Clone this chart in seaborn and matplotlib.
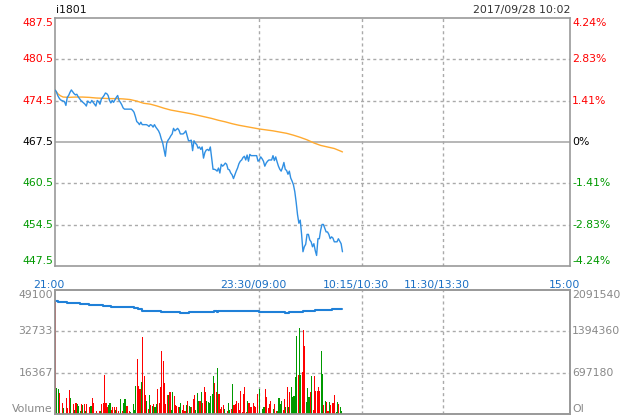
import numpy as np
import pandas as pd
import matplotlib
matplotlib.use("Agg")
import matplotlib.pyplot as plt
import matplotlib.transforms as mtransforms
import seaborn as sns

# ---------------- data ----------------
symbol = "i1801"
stamp = "2017/09/28 10:02"
time_labels = ["21:00", "23:30/09:00", "10:15/10:30", "11:30/13:30", "15:00"]
time_ticks = [0, 150, 225, 285]          # session minutes of the first four labels
price_labels = ["447.5", "454.5", "460.5", "467.5", "474.5", "480.5", "487.5"]
pct_labels = ["-4.24%", "-2.83%", "-1.41%", "0%", "1.41%", "2.83%", "4.24%"]
vol_labels = ["Volume", "16367", "32733", "49100"]
oi_labels = ["OI", "697180", "1394360", "2091540"]

price = [
    475.9, 475.6, 475.0, 474.6, 474.3, 474.2, 474.1, 474.0, 473.4, 474.7,
    475.0, 475.5, 475.9, 475.6, 475.3, 475.1, 475.2, 474.8, 474.5, 474.2,
    474.0, 473.8, 473.6, 473.3, 474.1, 473.9, 473.8, 474.2, 473.9, 473.6,
    473.3, 474.2, 474.0, 473.6, 474.4, 474.7, 475.0, 475.4, 475.3, 475.0,
    474.2, 473.8, 474.2, 473.9, 474.3, 474.7, 475.0, 474.2, 473.9, 473.5,
    473.0, 472.8, 472.8, 472.8, 472.8, 472.8, 472.8, 472.6, 472.3, 471.6,
    470.8, 470.6, 470.3, 470.7, 470.3, 470.3, 470.3, 470.3, 470.2, 470.0,
    470.3, 470.2, 469.9, 470.3, 469.9, 469.6, 469.3, 468.8, 468.0, 467.4,
    466.3, 465.2, 467.3, 467.8, 468.1, 468.5, 468.8, 469.7, 469.3, 469.5,
    469.7, 469.4, 468.8, 468.8, 468.8, 469.0, 469.3, 468.5, 467.7, 467.7,
    467.8, 466.1, 467.7, 467.3, 467.1, 466.5, 466.7, 466.3, 466.7, 464.9,
    465.8, 466.2, 466.3, 466.1, 466.7, 464.9, 463.1, 463.1, 463.0, 462.8,
    463.3, 462.5, 463.9, 463.6, 463.8, 464.1, 463.9, 463.1, 463.0, 462.5,
    462.2, 461.6, 462.2, 462.8, 463.3, 464.0, 464.4, 464.6, 465.0, 465.2,
    464.6, 465.4, 464.4, 465.5, 465.3, 465.3, 465.3, 465.3, 465.3, 464.4,
    464.6, 465.1, 464.8, 464.4, 463.6, 464.1, 464.4, 464.6, 464.6, 464.6,
    465.3, 464.5, 465.1, 464.3, 463.6, 463.1, 462.8, 463.4, 464.2, 463.1,
    462.9, 462.3, 462.8, 461.7, 461.2, 460.6, 459.5, 457.8, 455.8, 454.4,
    454.9, 452.6, 449.8, 450.6, 451.0, 452.6, 452.6, 451.7, 451.4, 450.6,
    451.1, 450.0, 449.2, 451.9, 451.9, 453.3, 454.2, 454.2, 453.6, 453.0,
    453.0, 452.6, 451.9, 452.2, 452.0, 451.4, 451.4, 451.4, 451.9, 451.5,
    451.1, 449.8,
]

avg_t = [0, 2, 4, 6, 10, 15, 20, 25, 30, 35, 40, 45, 50, 55, 60, 65, 70, 75,
         80, 85, 90, 95, 100, 105, 110, 115, 120, 125, 130, 135, 140, 145, 150,
         155, 160, 165, 170, 175, 180, 185, 190, 195, 200, 205, 210, 211]
avg_p = [475.9, 475.3, 474.95, 474.75, 474.7, 474.75, 474.75, 474.7, 474.6,
         474.55, 474.5, 474.5, 474.45, 474.35, 474.1, 473.75, 473.6, 473.3,
         472.95, 472.65, 472.45, 472.25, 472.05, 471.8, 471.55, 471.3, 471.0,
         470.75, 470.45, 470.2, 470.0, 469.8, 469.6, 469.45, 469.3, 469.1,
         468.9, 468.6, 468.25, 467.85, 467.35, 466.95, 466.7, 466.45, 466.0,
         465.9]

volume = [
    44500, 10200, 9800, 8200, 0, 4200, 2250, 0, 6450, 2250,
    9500, 6500, 0, 4000, 1600, 4200, 4000, 3000, 1200, 4000,
    3700, 4100, 1200, 4000, 0, 2800, 3000, 6450, 4200, 550,
    1050, 550, 1200, 1200, 3800, 4200, 15450, 4200, 2800, 3600,
    4200, 1600, 2900, 2900, 1600, 2900, 1000, 0, 6000, 1300,
    4200, 6000, 3300, 3300, 1300, 700, 0, 3800, 1500, 11100,
    21800, 11100, 9900, 12700, 30600, 15000, 7500, 5150, 2000, 7500,
    3500, 3300, 3900, 2800, 3800, 9900, 4200, 10800, 24950, 21100,
    12200, 4000, 7500, 7500, 8600, 1600, 8600, 7200, 3500, 3300,
    2800, 2800, 4200, 1600, 3500, 1300, 3700, 5100, 3100, 2900,
    2900, 6000, 7500, 1400, 8300, 5150, 5150, 8700, 4300, 10600,
    8700, 5150, 4600, 4300, 7200, 8000, 15000, 12300, 8700, 18200,
    8000, 2000, 2800, 3500, 2000, 400, 1000, 4300, 1700, 2000,
    12000, 3700, 3800, 5000, 4200, 1600, 9000, 600, 8000, 10700,
    600, 5000, 4350, 2800, 2800, 4350, 3300, 2800, 7900, 0,
    9900, 0, 2000, 2800, 9900, 6700, 2400, 3800, 5150, 0,
    2000, 4000, 1000, 1100, 6300, 4000, 5150, 1400, 5900, 2800,
    10600, 2800, 8700, 10700, 6700, 7100, 14600, 30900, 15450, 34060,
    15450, 16600, 33300, 26900, 4900, 10300, 6700, 8700, 15000, 1400,
    15000, 9100, 9100, 10700, 9100, 24900, 15700, 3500, 5150, 4800,
    1300, 4800, 3500, 4400, 4400, 7500, 600, 4600, 3800, 2800,
    1200,
]
# r = up (red), g = down (green), one letter per minute
vol_dir = ("rggrrrgrrrrgrrgrgggrgrgrrrgrrgrrrgrrrrrggrrrgrrrgr"
           "ggrrrgrgggrrrgrrrgrgrgrggrrrrrrrrgrggrrrrggrrrgrgg"
           "rrrgggrgrrrggggggrrgrrrrggrggrgrrrrrrrrrrgrrrrrrrrg"
           "rggrrrrrggrrggggrrgrgrgggggrggrrrgggrgrrrrrrggrgrrg"
           "rrrrgg")

oi_t = [0, 2, 9, 18, 25, 35, 41, 58, 61, 64, 78, 92, 98, 117, 119, 120, 150,
        169, 172, 182, 191, 200, 202, 203, 211]
oi_v = [1906000, 1883600, 1866700, 1849800, 1833000, 1816100, 1799200,
        1782300, 1765500, 1737300, 1714800, 1698000, 1714800, 1737300,
        1714800, 1737300, 1714800, 1698000, 1714800, 1737300, 1759800,
        1748600, 1759800, 1771000, 1771000]

# ---------------- style ----------------
sns.set_style("white")
plt.rcParams["font.family"] = ["DejaVu Sans"]
FS = 7.8
RED, GREEN, BLACK = "#ff0000", "#009900", "#000000"
GRID, BORDER = "#aaaaaa", "#999999"
LINE_BLUE, OI_BLUE, AVG_ORANGE = "#2f8fe3", "#1f80d8", "#ffaa30"
TICK_BLUE = "#1a6fc4"
GRAY_TXT = "#888888"

W, H = 620, 420
fig = plt.figure(figsize=(W / 100, H / 100), dpi=100)
ax = fig.add_axes([55 / W, 1 - 266 / H, 515 / W, 248 / H])
axv = fig.add_axes([55 / W, 1 - 414 / H, 515 / W, 124 / H])

x_max = 378                      # width of the session axis in minute slots
tick_pos = time_ticks + [x_max]

# ---------------- price panel ----------------
df = pd.DataFrame({"minute": np.arange(len(price)), "price": price})
dfa = pd.DataFrame({"minute": avg_t, "avg": avg_p})
sns.lineplot(data=dfa, x="minute", y="avg", ax=ax, color=AVG_ORANGE, lw=1.0,
             estimator=None, zorder=3)
sns.lineplot(data=df, x="minute", y="price", ax=ax, color=LINE_BLUE, lw=1.0,
             estimator=None, zorder=4)

lo, hi = float(price_labels[0]), float(price_labels[-1])
levels = np.linspace(lo, hi, len(price_labels))
mid = len(levels) // 2
ax.set_xlim(0, x_max)
ax.set_ylim(lo, hi)
for i, lv in enumerate(levels[1:-1], start=1):
    if i == mid:
        ax.axhline(lv, color=GRID, lw=1.2, zorder=1)
    else:
        ax.axhline(lv, color=GRID, lw=1.0, ls=(0, (2.2, 2.2)), zorder=1)
for t in tick_pos[1:-1]:
    ax.axvline(t, color=GRID, lw=1.0, ls=(0, (2.2, 2.2)), zorder=1)

ytr = ax.get_yaxis_transform()
for i, (lv, pl, pc) in enumerate(zip(levels, price_labels, pct_labels)):
    col = RED if i > mid else (BLACK if i == mid else GREEN)
    va = "bottom" if i == 0 else ("top" if i == len(levels) - 1 else "center")
    ax.text(-0.004, lv, pl, transform=ytr, ha="right", va=va, color=col, fontsize=FS)
    ax.text(1.004, lv, pc, transform=ytr, ha="left", va=va, color=col, fontsize=FS)

ax.set_xticks(tick_pos)
ax.set_xticklabels(time_labels, color=TICK_BLUE, fontsize=FS)
ax.tick_params(axis="x", length=0, pad=10)
offset = mtransforms.ScaledTranslation(-6 / 100, 0, fig.dpi_scale_trans)
for lab in ax.get_xticklabels():
    lab.set_transform(lab.get_transform() + offset)
ax.set_yticks([])
ax.set_xlabel("")
ax.set_ylabel("")

ax.text(0.002, 1.0 + 8 / 248, symbol, transform=ax.transAxes, ha="left",
        va="center", fontsize=FS, color="#111111")
ax.text(1.0, 1.0 + 8 / 248, stamp, transform=ax.transAxes, ha="right",
        va="center", fontsize=FS, color="#333333")

# ---------------- volume panel ----------------
vcolors = [RED if c == "r" else GREEN for c in vol_dir[:len(volume)]]
axv.bar(np.arange(len(volume)), volume, width=0.8, color=vcolors,
        linewidth=0, align="edge", antialiased=False, zorder=3)
vmax = float(vol_labels[-1])
axv.set_xlim(0, x_max)
axv.set_ylim(0, vmax)
vlevels = np.linspace(0, vmax, len(vol_labels))
for lv in vlevels[1:-1]:
    axv.axhline(lv, color=GRID, lw=1.0, ls=(0, (2.2, 2.2)), zorder=1)
for t in tick_pos[1:-1]:
    axv.axvline(t, color=GRID, lw=1.0, ls=(0, (2.2, 2.2)), zorder=1)
axv.set_xticks([])
axv.set_yticks([])

axo = axv.twinx()
omax = float(oi_labels[-1])
dfo = pd.DataFrame({"minute": oi_t, "oi": oi_v})
sns.lineplot(data=dfo, x="minute", y="oi", ax=axo, color=OI_BLUE, lw=1.5,
             estimator=None, drawstyle="steps-post")
axo.set_ylim(0, omax)
axo.set_xlim(0, x_max)
axo.set_yticks([])
axo.set_xlabel("")
axo.set_ylabel("")
axv.set_xlabel("")
axv.set_ylabel("")

vtr = axv.get_yaxis_transform()
for i, (lv, vl, ol) in enumerate(zip(vlevels, vol_labels, oi_labels)):
    va = "bottom" if i == 0 else ("top" if i == len(vlevels) - 1 else "center")
    axv.text(-0.004, lv, vl, transform=vtr, ha="right", va=va, color=GRAY_TXT, fontsize=FS)
    axv.text(1.004, lv, ol, transform=vtr, ha="left", va=va, color=GRAY_TXT, fontsize=FS)

for a in (ax, axv, axo):
    for s in a.spines.values():
        s.set_color(BORDER)
        s.set_linewidth(1.2)
        s.set_visible(True)

fig.savefig("out.png", dpi=100)
